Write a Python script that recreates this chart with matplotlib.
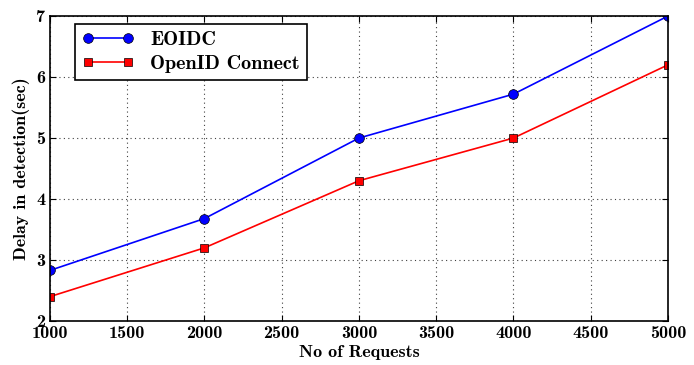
import matplotlib
matplotlib.use('Agg')
import matplotlib.pyplot as plt

requests = [1000, 2000, 3000, 4000, 5000]
eoidc = [2.83, 3.68, 5.0, 5.72, 7.0]
openid = [2.4, 3.2, 4.3, 5.0, 6.2]

plt.rcParams['font.family'] = ['cmb10', 'DejaVu Serif']
plt.rcParams['axes.unicode_minus'] = False

fig = plt.figure(figsize=(6.94, 3.65), dpi=100)
ax = fig.add_axes([0.072, 0.1205, 0.8905, 0.8355])

ax.plot(requests, eoidc, color='blue', marker='o', markersize=7, linewidth=1.2,
        markeredgecolor='black', markeredgewidth=0.5, label='EOIDC')
ax.plot(requests, openid, color='red', marker='s', markersize=6, linewidth=1.2,
        markeredgecolor='black', markeredgewidth=0.5, label='OpenID Connect')

ax.set_xlim(1000, 5000)
ax.set_ylim(2, 7)
ax.set_xticks(range(1000, 5001, 500))
ax.set_yticks(range(2, 8))
ax.grid(True, linestyle=(0, (1, 3)), color='0.25', linewidth=0.8)
ax.tick_params(direction='in', labelsize=13, top=True, right=True, length=4)
for s in ax.spines.values():
    s.set_linewidth(1.2)

ax.set_xlabel('No of Requests', fontsize=13, labelpad=3)
ax.set_ylabel('Delay in detection(sec)', fontsize=13)

leg = ax.legend(loc='upper left', bbox_to_anchor=(0.04, 0.975), borderaxespad=0,
                fontsize=14.5, fancybox=False, edgecolor='black',
                framealpha=1, numpoints=2, handlelength=2.6, labelspacing=0.3,
                borderpad=0.35)
leg.get_frame().set_linewidth(1.2)

fig.savefig('out.png', dpi=100)
